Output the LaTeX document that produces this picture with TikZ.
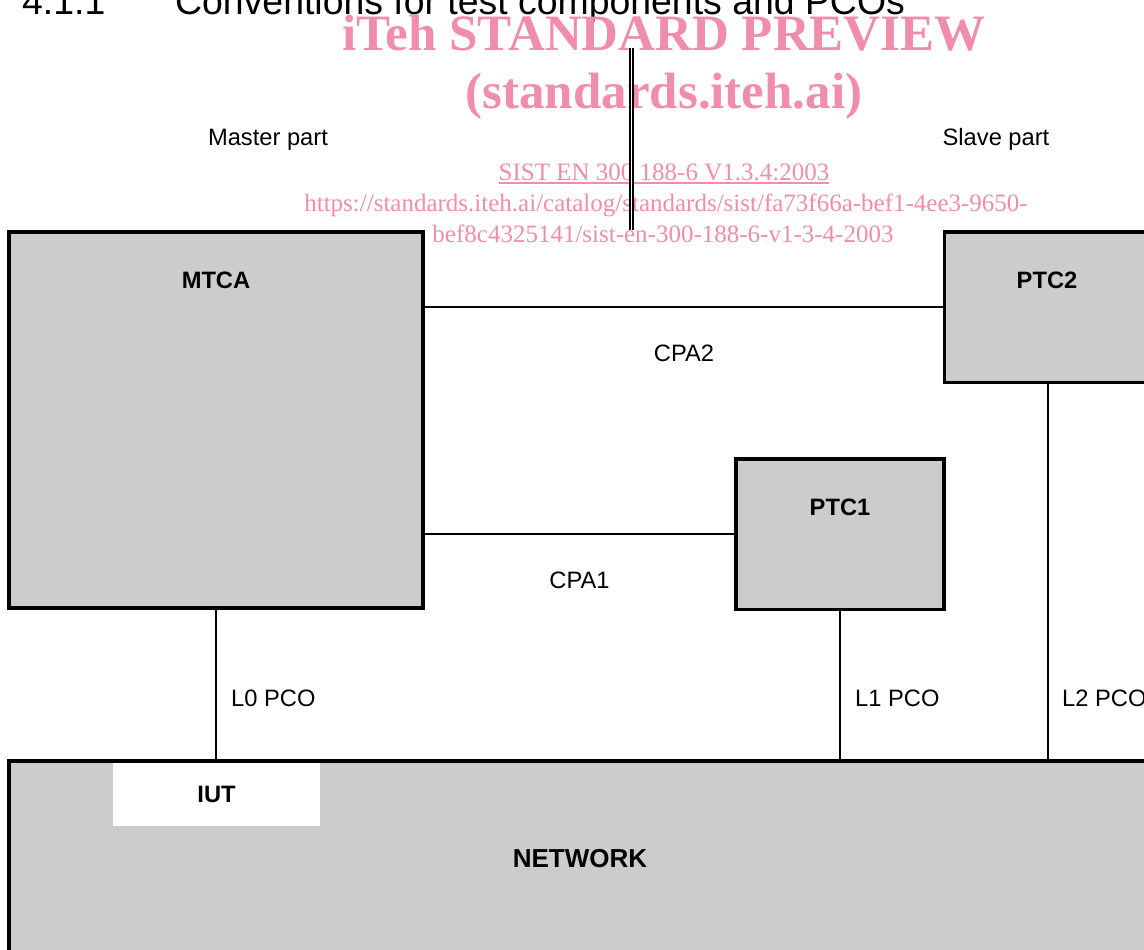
\documentclass[tikz,border=0pt]{standalone}
\usepackage{fontspec}
\setmainfont{Liberation Sans}
\newfontfamily\wmfont{Liberation Serif}
\definecolor{wmpink}{RGB}{239,141,170}
\definecolor{boxgray}{RGB}{204,204,204}
\begin{document}
\begin{tikzpicture}[x=1pt,y=-1pt,
  box/.style={draw=black, fill=boxgray, line width=3.5pt, inner sep=0pt, outer sep=0pt, rectangle, anchor=north west},
  conn/.style={draw=black, line width=1.6pt},
  lbl/.style={inner sep=0pt, anchor=base, font=\fontsize{23.7}{28}\selectfont},
  blbl/.style={inner sep=0pt, anchor=base, font=\fontsize{23.7}{28}\selectfont\bfseries},
  pcolbl/.style={inner sep=0pt, anchor=base west, font=\fontsize{23.7}{28}\selectfont},
  ttl/.style={inner sep=0pt, anchor=base west, font=\fontsize{37.4}{44}\selectfont},
  wmbig/.style={inner sep=0pt, anchor=base, text=wmpink, font=\wmfont\bfseries\fontsize{51}{60}\selectfont},
  wmsmall/.style={inner sep=0pt, anchor=base, text=wmpink, font=\wmfont\fontsize{25}{30}\selectfont},
]
\useasboundingbox (0,0) rectangle (1144,950);
\clip (0,0) rectangle (1144,950);

% title
\node[ttl] (num) at (22,15) {4.1.1};
\node[ttl] (title) at (175,15) {Conventions for test components and PCOs};

% watermark
\node[wmbig] (wm1) at (664,51) {iTeh STANDARD PREVIEW};
\node[wmbig] (wm2) at (664,108) {(standards.iteh.ai)};
\node[wmsmall] (sist) at (664,180) {SIST EN 300 188-6 V1.3.4:2003};
\draw[wmpink, line width=1.3pt] ([yshift=-3pt]sist.base west) -- ([yshift=-3pt]sist.base east);
\node[wmsmall] (url1) at (666,211) {https://standards.iteh.ai/catalog/standards/sist/fa73f66a-bef1-4ee3-9650-};
\node[wmsmall] (url2) at (663,242) {bef8c4325141/sist-en-300-188-6-v1-3-4-2003};

% parts
\node[lbl] (master) at (268,146) {Master part};
\node[lbl] (slave) at (996,146) {Slave part};
\coordinate (sepTop) at (631.6,48);
\coordinate (sepBot) at (631.6,230);
\draw[double, double distance=1.4pt, line width=1.8pt] (sepTop) -- (sepBot);

% boxes
\node[box, minimum width=414pt, minimum height=376pt] (mtca) at (9,232) {};
\node[box, minimum width=207.5pt, minimum height=150.5pt] (ptc2) at (944.5,232) {};
\node[box, minimum width=208pt, minimum height=150.5pt] (ptc1) at (736,459) {};
\node[box, minimum width=1143pt, minimum height=200pt] (net) at (9,761) {};
\node[fill=white, draw=none, inner sep=0pt, outer sep=0pt, minimum width=207pt, minimum height=63pt, anchor=north west] (iutbox) at (113,763) {};

% connectors
\draw[conn] (mtca.east |- ptc2.west) -- (ptc2.west);
\draw[conn] (mtca.east |- ptc1.west) -- (ptc1.west);
\draw[conn] (mtca.south) -- (mtca.south |- net.north);
\draw[conn] (ptc1.south) -- (ptc1.south |- net.north);
\draw[conn] (ptc2.south) -- (ptc2.south |- net.north);

% labels
\node[blbl] (tmtca) at (216,288.5) {MTCA};
\node[blbl] (tptc2) at (1047,288.5) {PTC2};
\node[blbl] (tptc1) at (840,515.5) {PTC1};
\node[lbl] (cpa2) at (684,361.5) {CPA2};
\node[lbl] (cpa1) at (579.5,588.5) {CPA1};
\node[pcolbl] (l0) at (231,706) {L0 PCO};
\node[pcolbl] (l1) at (855,706) {L1 PCO};
\node[pcolbl] (l2) at (1062,706) {L2 PCO};
\node[blbl] (tiut) at (216.5,802.5) {IUT};
\node[blbl, font=\fontsize{26}{31}\selectfont\bfseries] (tnet) at (580,867.5) {NETWORK};
\end{tikzpicture}
\end{document}
